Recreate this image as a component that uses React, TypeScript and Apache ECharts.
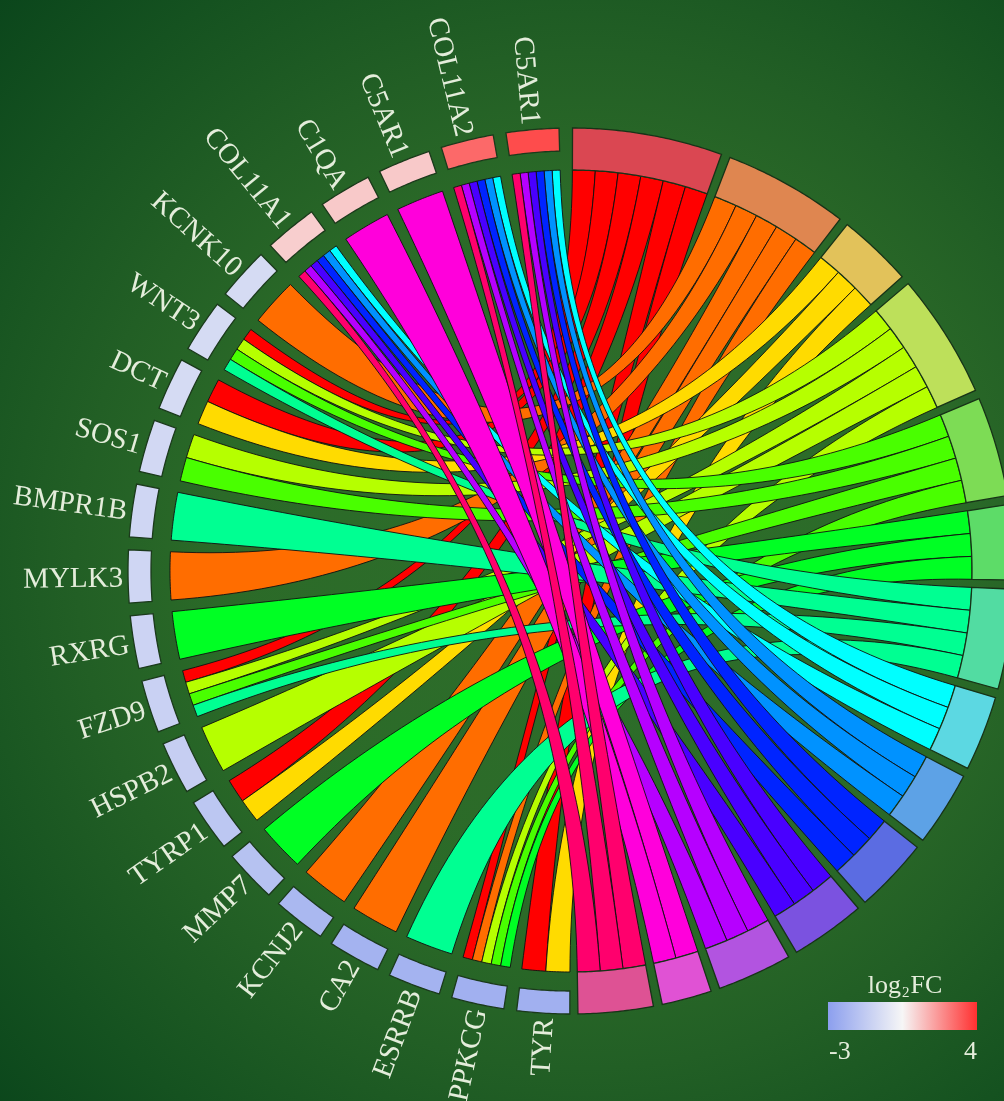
import React, { useEffect, useRef } from 'react';
import * as echarts from 'echarts';

// ---------------- data ----------------
const genes = ['C5AR1', 'COL11A2', 'C5AR1', 'C1QA', 'COL11A1', 'KCNK10', 'WNT3', 'DCT', 'SOS1', 'BMPR1B', 'MYLK3', 'RXRG', 'FZD9', 'HSPB2', 'TYRP1', 'MMP7', 'KCNJ2', 'CA2', 'ESRRB', 'PPKCG', 'TYR'];
const logFC = [3.5, 3.0, 1.3, 1.3, 1.2, -0.6, -0.6, -0.6, -0.7, -0.8, -0.8, -0.9, -1.0, -1.1, -1.4, -1.6, -2.0, -2.2, -2.2, -2.3, -2.3];
const processes = ['P01', 'P02', 'P03', 'P04', 'P05', 'P06', 'P07', 'P08', 'P09', 'P10', 'P11', 'P12', 'P13', 'P14'];
// process indices linked to each gene
const geneProcesses = [
  [7, 8, 9, 10, 11, 13],
  [7, 8, 9, 10, 11, 13],
  [12],
  [12],
  [7, 8, 9, 10, 11, 13],
  [1],
  [0, 3, 4, 6],
  [0, 2],
  [3, 4],
  [6],
  [1],
  [5],
  [0, 3, 4, 6],
  [3],
  [0, 2],
  [5],
  [1],
  [1],
  [6],
  [0, 1, 3, 4, 5],
  [0, 2],
];
const ribbonColors = ['#FF0000', '#FF6D00', '#FFDB00', '#B6FF00', '#49FF00', '#00FF24', '#00FF92', '#00FFFF', '#0092FF', '#0024FF', '#4900FF', '#B600FF', '#FF00DB', '#FF006D'];
const processColors = ['#da4752', '#df8650', '#e2c25a', '#bde05a', '#7ddc55', '#5ddc68', '#52dca2', '#5cd8e2', '#5da2e6', '#5b6ce2', '#7b52e0', '#b254e0', '#e052d4', '#de5294'];
const fcRange = [-3, 4];
const fcColors = ['#8c9fee', '#f6f6f6', '#ff3030'];
const fcTicks = ['-3', '4'];

// ---------------- layout constants ----------------
const CX = 571;
const CY = 571;
const R_OUT = 443;
const R_GENE_IN = 420;
const R_RIB = 401;
const R_LABEL = 448;
const GENE_START = 180.15;
const GENE_END = 358.45;
const GENE_GAP = 1.67;
const TERM_START = 0.2;
const TERM_END = 179.1;
const TERM_GAP = 1.16;
const FONT = '"Liberation Serif", "Times New Roman", serif';
const TEXT_COLOR = '#e4eddb';

// ---------------- derived tables ----------------
const nG = genes.length;
const nP = processes.length;
const genePitch = (GENE_END - GENE_START + GENE_GAP) / nG;
const geneW = genePitch - GENE_GAP;
const geneSpan = (i: number) => [GENE_END - i * genePitch - geneW, GENE_END - i * genePitch];
const termGenes = processes.map((_, j) => genes.map((_, i) => i).filter((i) => geneProcesses[i].includes(j)));
const totalLinks = termGenes.reduce((s, l) => s + l.length, 0);
const unit = (TERM_END - TERM_START - (nP - 1) * TERM_GAP) / totalLinks;
const termStart: number[] = [];
{
  let a = TERM_START;
  for (let j = 0; j < nP; j++) {
    termStart.push(a);
    a += termGenes[j].length * unit + TERM_GAP;
  }
}
const links: number[][] = [];
processes.forEach((_, j) => termGenes[j].forEach((i) => links.push([i, j])));
const geneData = genes.map((_, i) => [i, logFC[i]]);
const termData = processes.map((_, j) => [j, termGenes[j].length]);

export default function App() {
  const ref = useRef<HTMLDivElement>(null);
  useEffect(() => {
    const chart = echarts.init(ref.current as HTMLDivElement, null, { renderer: 'svg' });

    const arcPts = (api: any, r: number, a0: number, a1: number, out: number[][]) => {
      const n = Math.max(2, Math.ceil(Math.abs(a1 - a0) / 0.4));
      for (let k = 0; k <= n; k++) out.push(api.coord([r, a0 + ((a1 - a0) * k) / n]));
    };
    const bezPts = (p0: number[], c: number[], p2: number[], out: number[][]) => {
      const n = 60;
      for (let k = 1; k < n; k++) {
        const t = k / n;
        const a = (1 - t) * (1 - t), b = 2 * t * (1 - t), d = t * t;
        out.push([a * p0[0] + b * c[0] + d * p2[0], a * p0[1] + b * c[1] + d * p2[1]]);
      }
    };

    const option: any = {
      animation: false,
      polar: { center: [CX, CY], radius: R_OUT },
      angleAxis: {
        type: 'value', min: 0, max: 360, startAngle: 90, clockwise: true, show: false,
        axisLine: { show: false }, axisTick: { show: false }, axisLabel: { show: false }, splitLine: { show: false },
      },
      radiusAxis: {
        type: 'value', min: 0, max: R_OUT, show: false,
        axisLine: { show: false }, axisTick: { show: false }, axisLabel: { show: false }, splitLine: { show: false },
      },
      visualMap: {
        type: 'continuous', show: false, min: fcRange[0], max: fcRange[1], dimension: 1, seriesIndex: 2,
        inRange: { color: fcColors },
      },
      graphic: [
        {
          type: 'rect', z: -10, silent: true,
          shape: { x: 0, y: 0, width: 1004, height: 1101 },
          style: {
            fill: new echarts.graphic.RadialGradient(585, 560, 820, [
              { offset: 0, color: '#2e6e2b' },
              { offset: 0.45, color: '#2b6a28' },
              { offset: 0.62, color: '#225f25' },
              { offset: 0.82, color: '#155220' },
              { offset: 1, color: '#0a451b' },
            ], true),
          },
        },
        {
          type: 'rect', z: 10, shape: { x: 828, y: 1002, width: 149, height: 28 },
          style: {
            fill: new echarts.graphic.LinearGradient(0, 0, 1, 0, fcColors.map((c, k) => ({ offset: k / (fcColors.length - 1), color: c }))),
          },
        },
        {
          type: 'text', z: 10, x: 905, y: 984,
          style: {
            text: '{a|log}{b|2}{a|FC}', align: 'center', verticalAlign: 'middle', textAlign: 'center', textVerticalAlign: 'middle',
            rich: {
              a: { fontSize: 26, fontFamily: FONT, fill: TEXT_COLOR, lineHeight: 30, verticalAlign: 'middle' },
              b: { fontSize: 15, fontFamily: FONT, fill: TEXT_COLOR, lineHeight: 30, verticalAlign: 'bottom', padding: [0, 1, 0, 1] },
            },
          },
        },
        {
          type: 'text', z: 10, x: 829, y: 1050,
          style: { text: fcTicks[0], fontSize: 26, fontFamily: FONT, fill: TEXT_COLOR, align: 'left', verticalAlign: 'middle', textAlign: 'left', textVerticalAlign: 'middle' },
        },
        {
          type: 'text', z: 10, x: 977, y: 1050,
          style: { text: fcTicks[1], fontSize: 26, fontFamily: FONT, fill: TEXT_COLOR, align: 'right', verticalAlign: 'middle', textAlign: 'right', textVerticalAlign: 'middle' },
        },
      ],
      series: [
        {
          type: 'custom', coordinateSystem: 'polar', z: 2, data: links,
          renderItem: (params: any, api: any) => {
            const i = api.value(0);
            const j = api.value(1);
            const [g0, g1] = geneSpan(i);
            const sorted = [...geneProcesses[i]].sort((a, b) => a - b);
            const m = sorted.indexOf(j);
            const w = (g1 - g0) / sorted.length;
            const ga1 = g1 - m * w;
            const ga0 = g1 - (m + 1) * w;
            const mt = termGenes[j].indexOf(i);
            const ta0 = termStart[j] + mt * unit;
            const ta1 = ta0 + unit;
            const c = api.coord([0, 0]);
            const pts: number[][] = [];
            arcPts(api, R_RIB, ga0, ga1, pts);
            bezPts(api.coord([R_RIB, ga1]), c, api.coord([R_RIB, ta0]), pts);
            arcPts(api, R_RIB, ta0, ta1, pts);
            bezPts(api.coord([R_RIB, ta1]), c, api.coord([R_RIB, ga0]), pts);
            return {
              type: 'polygon',
              shape: { points: pts },
              style: { fill: ribbonColors[j], stroke: '#101010', lineWidth: 0.9 },
            };
          },
        },
        {
          type: 'custom', coordinateSystem: 'polar', z: 3, data: termData,
          renderItem: (params: any, api: any) => {
            const j = api.value(0);
            const a0 = termStart[j];
            const a1 = a0 + api.value(1) * unit;
            const pts: number[][] = [];
            arcPts(api, R_OUT, a0, a1, pts);
            const inner: number[][] = [];
            arcPts(api, R_RIB, a0, a1, inner);
            inner.reverse().forEach((p) => pts.push(p));
            return {
              type: 'polygon', shape: { points: pts },
              style: { fill: processColors[j], stroke: '#173317', lineWidth: 1.3 },
            };
          },
        },
        {
          type: 'custom', coordinateSystem: 'polar', z: 3, data: geneData,
          renderItem: (params: any, api: any) => {
            const i = api.value(0);
            const [a0, a1] = geneSpan(i);
            const pts: number[][] = [];
            arcPts(api, R_OUT, a0, a1, pts);
            const inner: number[][] = [];
            arcPts(api, R_GENE_IN, a0, a1, inner);
            inner.reverse().forEach((p) => pts.push(p));
            const mid = (a0 + a1) / 2;
            const lp = api.coord([R_LABEL, mid]);
            const th = (mid * Math.PI) / 180;
            const phi = Math.atan2(Math.cos(th), -Math.sin(th));
            return {
              type: 'group',
              children: [
                {
                  type: 'polygon', shape: { points: pts },
                  style: { fill: api.visual('color'), stroke: '#1b3a1b', lineWidth: 1.3 },
                },
                {
                  type: 'text', x: lp[0], y: lp[1], rotation: -phi,
                  style: {
                    text: genes[i], x: 0, y: 0, fontSize: 29, fontFamily: FONT, fill: TEXT_COLOR,
                    align: 'right', verticalAlign: 'middle', textAlign: 'right', textVerticalAlign: 'middle',
                  },
                },
              ],
            };
          },
        },
      ],
    };
    chart.setOption(option);
    return () => chart.dispose();
  }, []);
  return <div ref={ref} style={{ position: 'fixed', left: 0, top: 0, width: 1004, height: 1101 }} />;
}
